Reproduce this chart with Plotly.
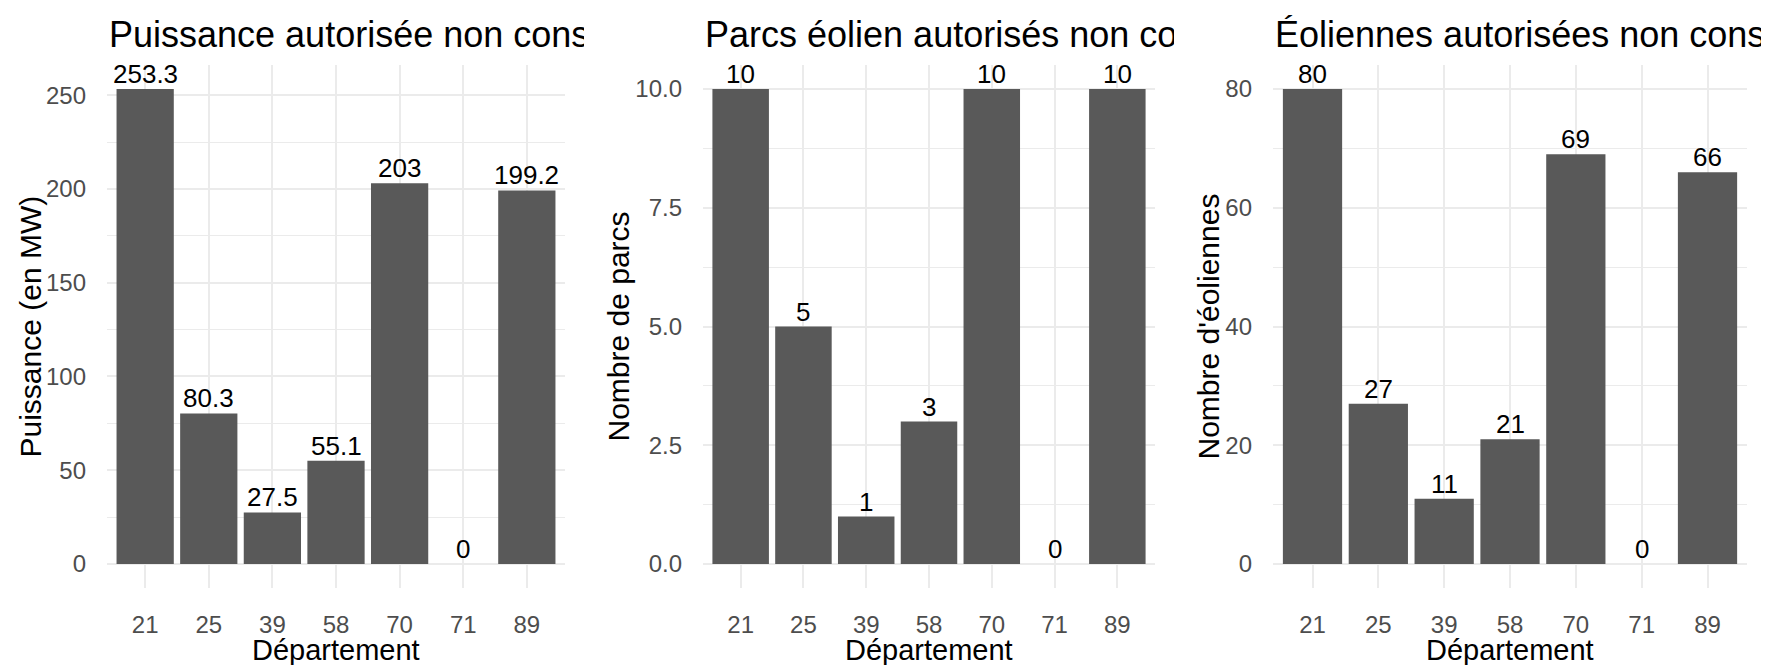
import plotly.graph_objects as go

# ---- data ----
departements = ["21", "25", "39", "58", "70", "71", "89"]
puissance_mw = [253.3, 80.3, 27.5, 55.1, 203, 0, 199.2]
nb_parcs = [10, 5, 1, 3, 10, 0, 10]
nb_eoliennes = [80, 27, 11, 21, 69, 0, 66]

titles = [
    "Puissance autorisée non construite",
    "Parcs éolien autorisés non construits",
    "Éoliennes autorisées non construites",
]
y_titles = ["Puissance (en MW)", "Nombre de parcs", "Nombre d'éoliennes"]
x_title = "Département"
y_dticks = [50, 2.5, 20]
y_formats = ["d", ".1f", "d"]

# ---- layout constants (pixels in the 1769x665 window) ----
WIN_W, WIN_H = 1769, 665
OFF = 8  # default page body margin
W, H = WIN_W - OFF, WIN_H - OFF
panels = [(107, 565), (703, 1155), (1273, 1747)]
ytitle_x = [30, 618, 1208]
title_clip = [582, 1172, 1763]
plot_top, plot_bottom = 65.25, 587.75
FONT = "Liberation Sans, Arial, Helvetica, sans-serif"
BAR = "#595959"
GRID = "#EBEBEB"
TICK = "#4D4D4D"


def fx(x):
    return (x - OFF) / W


def fy(y):
    return 1 - (y - OFF) / H


series = [puissance_mw, nb_parcs, nb_eoliennes]
fig = go.Figure()
annotations = []

for i, vals in enumerate(series):
    n = i + 1
    xa = "x" if n == 1 else f"x{n}"
    ya = "y" if n == 1 else f"y{n}"
    fig.add_trace(go.Bar(
        x=departements, y=vals, xaxis=xa, yaxis=ya,
        marker=dict(color=BAR, line=dict(width=0)),
        width=0.9,
        showlegend=False,
        hoverinfo="x+y",
    ))
    # value labels above bars (x given as category index)
    for j, v in enumerate(vals):
        annotations.append(dict(
            text=f"{v:g}", x=j, y=v, xref=xa, yref=ya,
            xanchor="center", yanchor="bottom", yshift=-2, showarrow=False,
            font=dict(family=FONT, size=26, color="#000000"),
        ))
    vmax = max(vals)
    left, right = panels[i]
    xkey = "xaxis" if n == 1 else f"xaxis{n}"
    ykey = "yaxis" if n == 1 else f"yaxis{n}"
    fig.layout[xkey] = dict(
        type="category", range=[-0.6, len(departements) - 0.4],
        domain=[fx(left), fx(right)], anchor=ya,
        showgrid=True, gridcolor=GRID, gridwidth=1.5,
        zeroline=False, showline=False, ticks="",
        tickfont=dict(family=FONT, size=24, color=TICK),
        ticklabelstandoff=20, fixedrange=True,
    )
    fig.layout[ykey] = dict(
        range=[-0.05 * vmax, 1.05 * vmax],
        domain=[fy(plot_bottom), fy(plot_top)], anchor=xa,
        tick0=0, dtick=y_dticks[i], tickformat=y_formats[i],
        showgrid=True, gridcolor=GRID, gridwidth=1.5,
        minor=dict(dtick=y_dticks[i] / 2, showgrid=True, gridcolor=GRID, gridwidth=1),
        zeroline=False, showline=False, ticks="",
        tickfont=dict(family=FONT, size=24, color=TICK),
        ticklabelstandoff=20, fixedrange=True,
    )
    # panel title (clipped like the original)
    annotations.append(dict(
        text=titles[i], xref="paper", yref="paper",
        x=fx(left), y=fy(34.5), xanchor="left", yanchor="middle",
        align="left", width=title_clip[i] - left, showarrow=False,
        font=dict(family=FONT, size=36, color="#000000"),
    ))
    # y axis title
    annotations.append(dict(
        text=y_titles[i], xref="paper", yref="paper",
        x=fx(ytitle_x[i]), y=fy((plot_top + plot_bottom) / 2),
        xanchor="center", yanchor="middle", textangle=-90, showarrow=False,
        font=dict(family=FONT, size=30, color="#000000"),
    ))
    # x axis title
    annotations.append(dict(
        text=x_title, xref="paper", yref="paper",
        x=fx((left + right) / 2), y=fy(650),
        xanchor="center", yanchor="middle", showarrow=False, borderpad=0,
        font=dict(family=FONT, size=29, color="#000000"),
    ))

fig.update_layout(
    width=W, height=H,
    margin=dict(l=0, r=0, t=0, b=0),
    paper_bgcolor="white", plot_bgcolor="white",
    annotations=annotations,
    font=dict(family=FONT),
)

fig.write_html("out.html", config={"displayModeBar": False})
